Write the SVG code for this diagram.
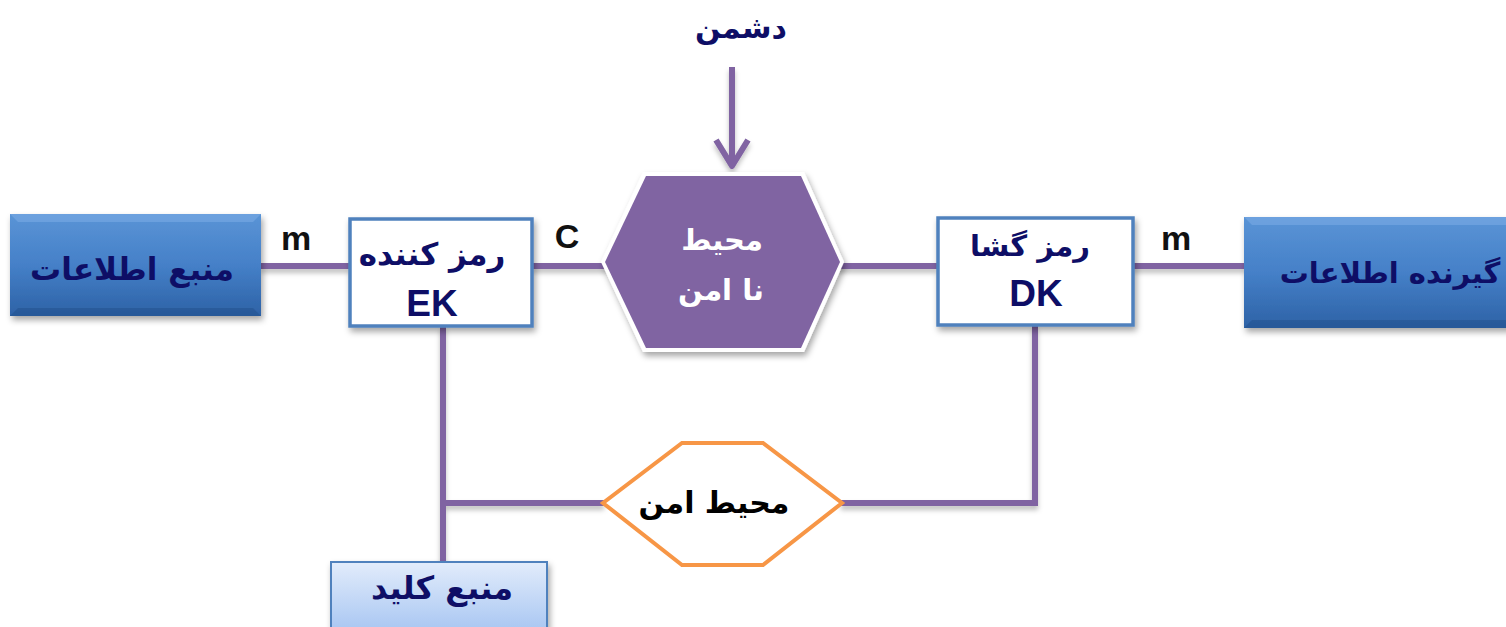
<svg xmlns="http://www.w3.org/2000/svg" width="1506" height="627" viewBox="0 0 1506 627">
<defs>
<linearGradient id="blueG" x1="0" y1="0" x2="0" y2="1">
<stop offset="0" stop-color="#5a94d6"/>
<stop offset="0.5" stop-color="#4580c8"/>
<stop offset="1" stop-color="#2d62a6"/>
</linearGradient>
<linearGradient id="keyG" x1="0" y1="0" x2="0" y2="1">
<stop offset="0" stop-color="#e2ecfb"/>
<stop offset="1" stop-color="#a8c6f2"/>
</linearGradient>
<filter id="sh" x="-10%" y="-10%" width="130%" height="140%">
<feDropShadow dx="2" dy="4" stdDeviation="3" flood-color="#000" flood-opacity="0.35"/>
</filter>
<filter id="lsh" x="-5%" y="-50%" width="110%" height="300%">
<feDropShadow dx="0" dy="4" stdDeviation="2.5" flood-color="#000" flood-opacity="0.25"/>
</filter>
</defs>
<style>
.ln{stroke:#8064a2;stroke-width:6;fill:none;stroke-linecap:butt}
.fa{font-family:"DejaVu Sans",sans-serif;font-weight:bold;text-anchor:middle}
.la{font-family:"Liberation Sans",Arial,sans-serif;font-weight:bold;text-anchor:middle}
.navy{fill:#0e0e66}
.box{fill:#fff;stroke:#4f81bd;stroke-width:3.5}
</style>
<rect width="1506" height="627" fill="#fff"/>

<g id="connectors" filter="url(#lsh)">
<line class="ln" x1="261" y1="266" x2="350" y2="266"/>
<line class="ln" x1="532" y1="266" x2="608" y2="266"/>
<line class="ln" x1="838" y1="266" x2="937" y2="266"/>
<line class="ln" x1="1133" y1="266" x2="1246" y2="266"/>
<line class="ln" x1="443" y1="326" x2="443" y2="563"/>
<line class="ln" x1="443" y1="503" x2="604" y2="503"/>
<polyline class="ln" points="841,503 1035,503 1035,326"/>
<line class="ln" x1="732" y1="67" x2="732" y2="166"/>
<polyline class="ln" points="716,140 732,166 748,140" stroke-linecap="round" stroke-linejoin="round" stroke-width="6"/>
</g>

<g id="source">
<rect x="10" y="214" width="251" height="102" fill="url(#blueG)" filter="url(#sh)"/>
<polygon points="10,214 261,214 253,222 18,222" fill="#7aaae4" opacity="0.6"/>
<polygon points="10,316 261,316 253,308 18,308" fill="#1f4f8c" opacity="0.5"/>
<text class="fa navy" x="132" y="280" font-size="31">منبع اطلاعات</text>
</g>

<g id="receiver">
<rect x="1244" y="217" width="270" height="111" fill="url(#blueG)" filter="url(#sh)"/>
<polygon points="1244,217 1514,217 1514,225 1252,225" fill="#7aaae4" opacity="0.6"/>
<polygon points="1244,328 1514,328 1514,320 1252,320" fill="#1f4f8c" opacity="0.5"/>
<text class="fa navy" x="1390" y="283" font-size="29">گیرنده اطلاعات</text>
</g>

<g id="encoder">
<rect class="box" x="350" y="219" width="182" height="107" filter="url(#sh)"/>
<text class="fa navy" x="432" y="265" font-size="31">رمز کننده</text>
<text class="la navy" x="432" y="316" font-size="37">EK</text>
</g>

<g id="decoder">
<rect class="box" x="938" y="218" width="195" height="107" filter="url(#sh)"/>
<text class="fa navy" x="1030" y="256" font-size="29">رمز گشا</text>
<text class="la navy" x="1036" y="306" font-size="37">DK</text>
</g>

<g id="insecure">
<polygon points="643,172 804,172 844,262 804,352 643,352 601,262" fill="#fff" filter="url(#sh)"/>
<polygon points="646,176 801,176 840,262 801,348 646,348 605,262" fill="#8064a2"/>
<text class="fa" x="722" y="250" font-size="29" fill="#fff">محیط</text>
<text class="fa" x="721" y="300" font-size="29" fill="#fff">نا امن</text>
</g>

<g id="secure">
<polygon points="682,443 763,443 842,503 763,565 682,565 603,503" fill="#fff" stroke="#f79646" stroke-width="4"/>
<text class="fa" x="714" y="513" font-size="30" fill="#000">محیط امن</text>
</g>

<g id="keysource">
<rect x="331" y="562" width="216" height="70" fill="url(#keyG)" stroke="#4f81bd" stroke-width="2" filter="url(#sh)"/>
<text class="fa navy" x="442" y="599" font-size="32">منبع کلید</text>
</g>

<g id="labels">
<text class="la" x="296" y="250" font-size="34" fill="#111">m</text>
<text class="la" x="567" y="248" font-size="34" fill="#111">C</text>
<text class="la" x="1176" y="250" font-size="34" fill="#111">m</text>
<text class="fa navy" x="741" y="38" font-size="30">دشمن</text>
</g>
</svg>
